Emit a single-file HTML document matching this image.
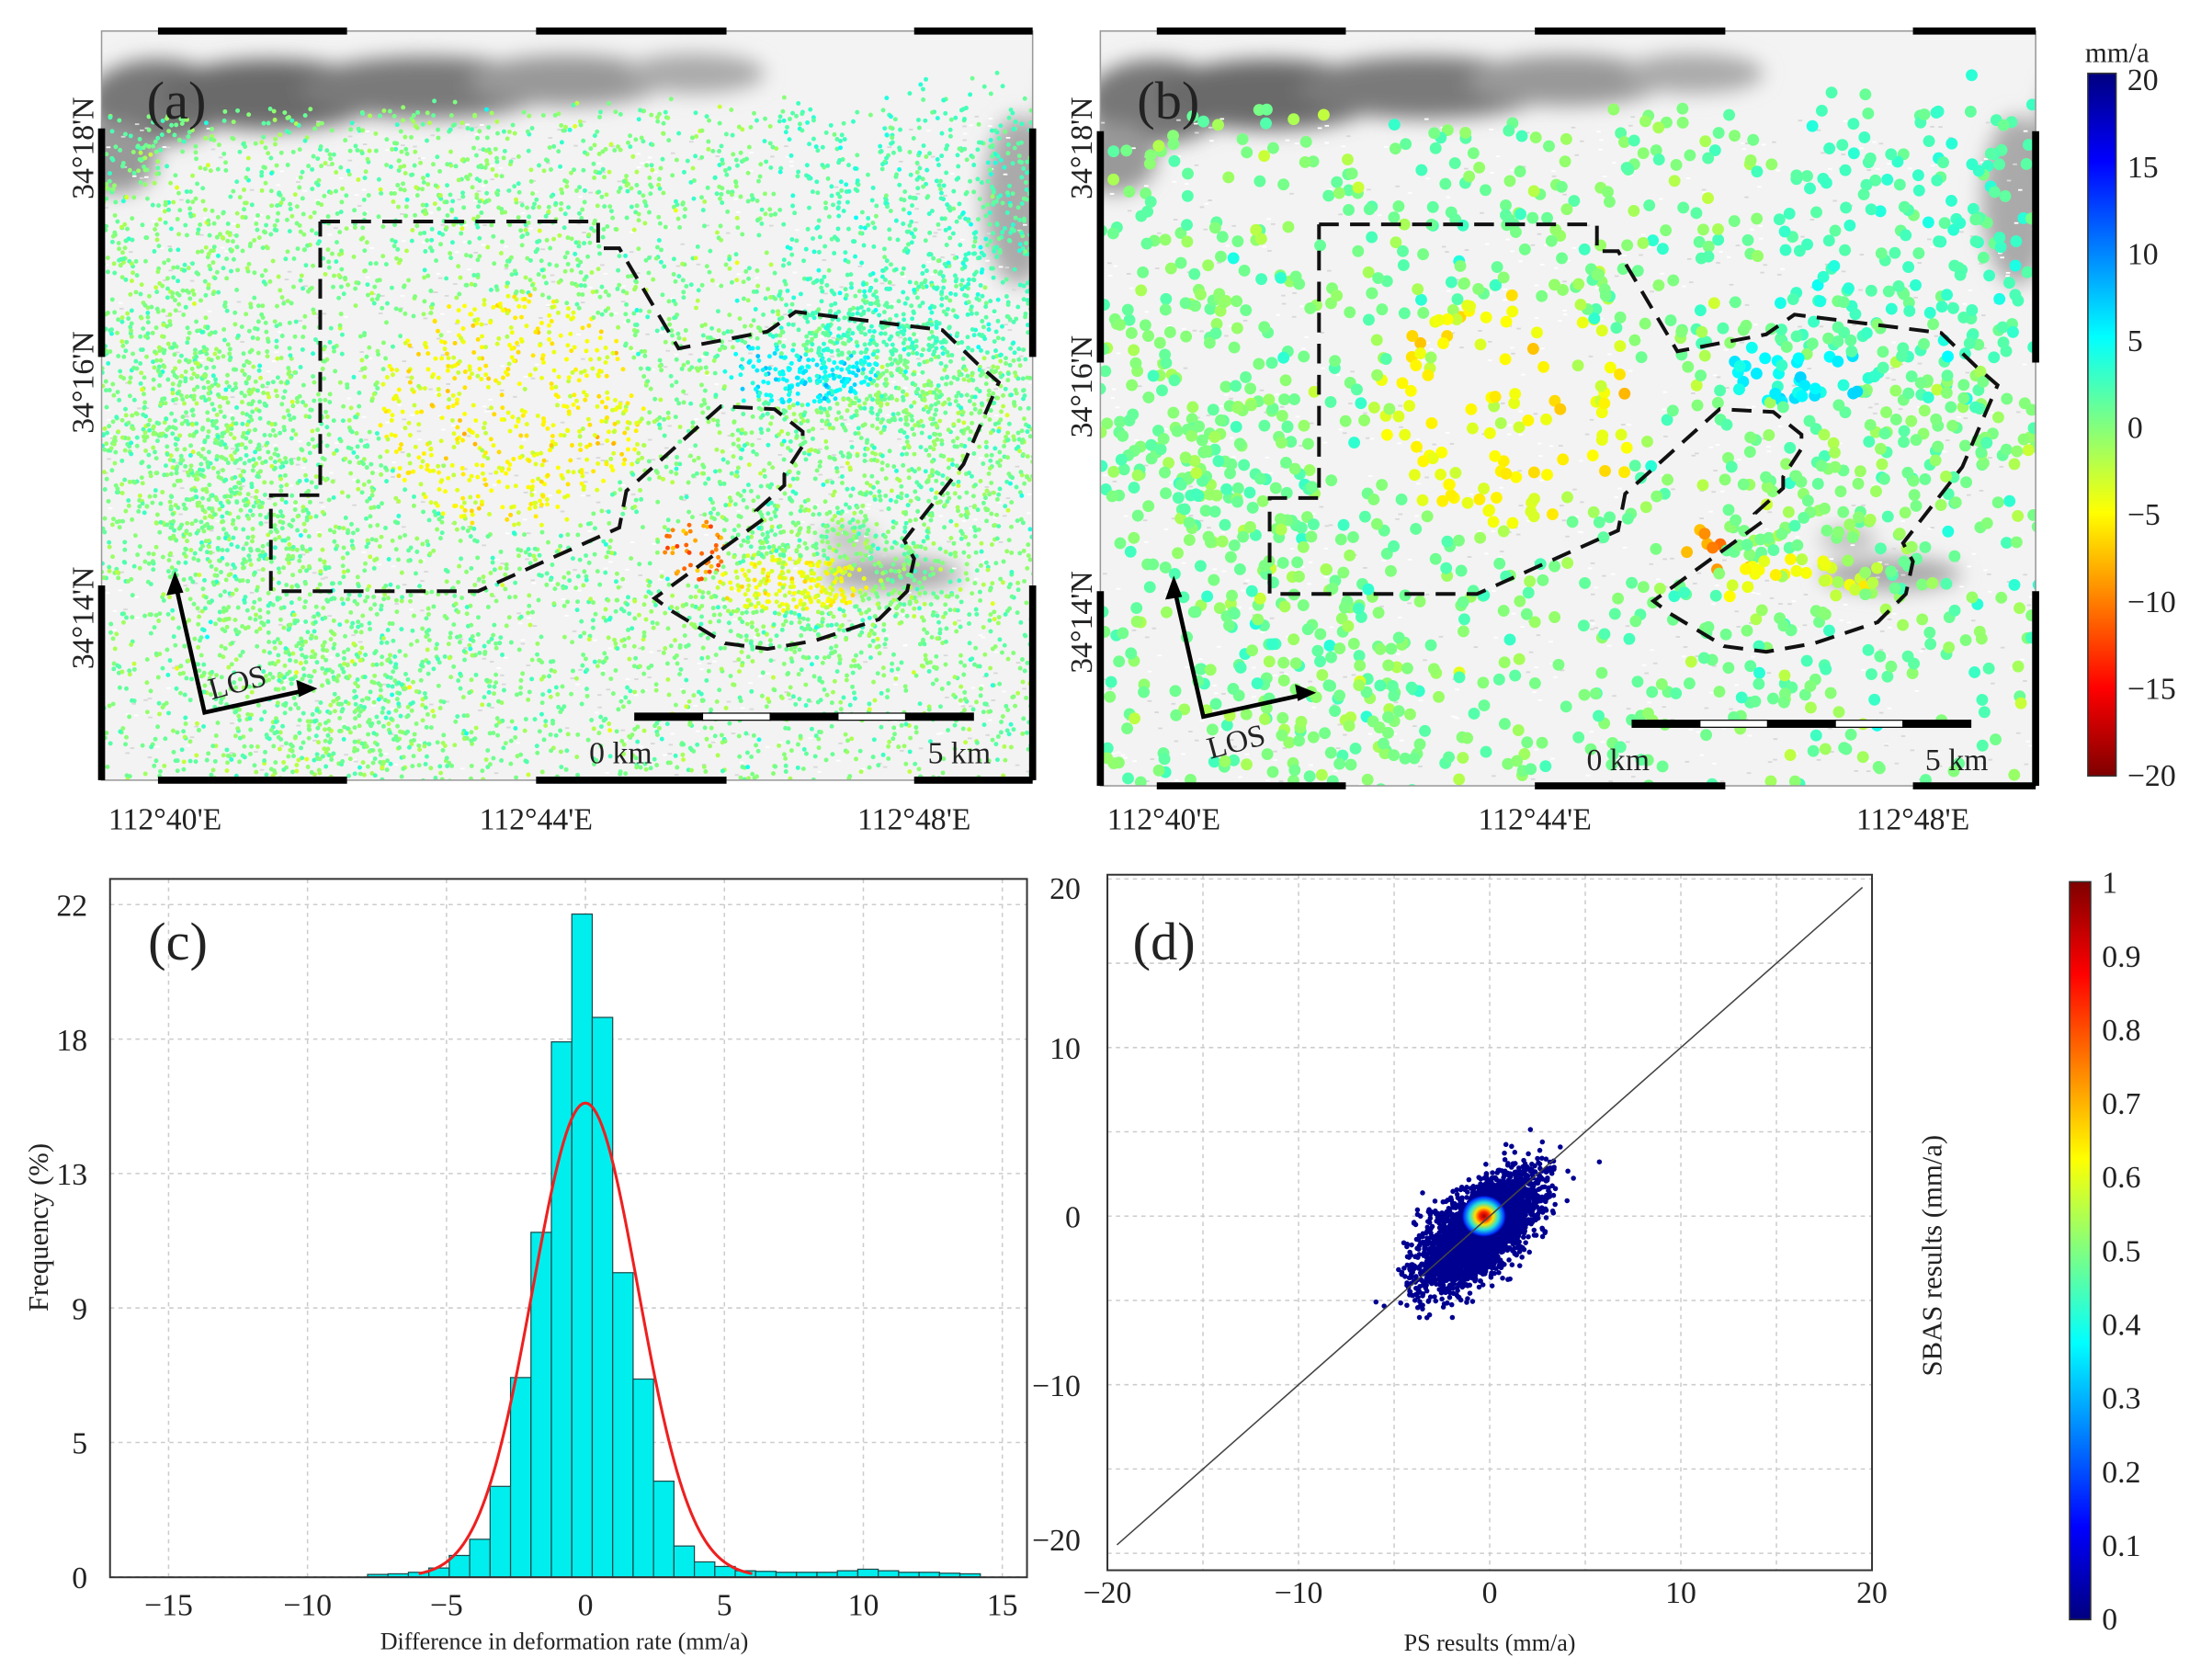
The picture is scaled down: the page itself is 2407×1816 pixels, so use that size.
<!DOCTYPE html>
<html><head><meta charset="utf-8"><style>
html,body{margin:0;padding:0;background:#fff;}
svg{display:block;}
text{font-family:"Liberation Serif",serif;fill:#222;}
</style></head><body>
<svg id="s" width="2407" height="1816" viewBox="0 0 1568 1183" preserveAspectRatio="none" xmlns="http://www.w3.org/2000/svg">
<defs>
<filter id="bl" x="-50%" y="-50%" width="200%" height="200%"><feGaussianBlur stdDeviation="7"/></filter>
<clipPath id="ca"><rect x="72" y="22" width="660" height="531"/></clipPath>
<clipPath id="cb"><rect x="780" y="22" width="663" height="535"/></clipPath>
<clipPath id="cd"><rect x="785" y="620" width="542" height="493"/></clipPath>
<linearGradient id="cb1" x1="0" y1="0" x2="0" y2="1">
<stop offset="0" stop-color="#00007f"/><stop offset="0.125" stop-color="#0000ff"/><stop offset="0.375" stop-color="#00ffff"/><stop offset="0.5" stop-color="#80ff80"/><stop offset="0.625" stop-color="#ffff00"/><stop offset="0.875" stop-color="#ff0000"/><stop offset="1" stop-color="#7f0000"/></linearGradient>
<linearGradient id="cb2" x1="0" y1="1" x2="0" y2="0">
<stop offset="0" stop-color="#00007f"/><stop offset="0.125" stop-color="#0000ff"/><stop offset="0.375" stop-color="#00ffff"/><stop offset="0.5" stop-color="#80ff80"/><stop offset="0.625" stop-color="#ffff00"/><stop offset="0.875" stop-color="#ff0000"/><stop offset="1" stop-color="#7f0000"/></linearGradient>
<radialGradient id="hot"><stop offset="0" stop-color="#a00000"/><stop offset="0.2" stop-color="#ff2000"/><stop offset="0.4" stop-color="#ffe000"/><stop offset="0.65" stop-color="#20e0e0"/><stop offset="0.9" stop-color="#0030ff"/><stop offset="1" stop-color="#0000a0" stop-opacity="0"/></radialGradient>
</defs>
<g id="ma" clip-path="url(#ca)"></g>
<g id="mb" clip-path="url(#cb)"></g>
<g id="frames"></g>
<text x="104" y="84" font-size="38">(a)</text>
<text x="806" y="84" font-size="38">(b)</text>
<g font-size="22">
<text transform="translate(66,105) rotate(-90)" text-anchor="middle">34°18'N</text>
<text transform="translate(66,271) rotate(-90)" text-anchor="middle">34°16'N</text>
<text transform="translate(66,438) rotate(-90)" text-anchor="middle">34°14'N</text>
<text transform="translate(774,105) rotate(-90)" text-anchor="middle">34°18'N</text>
<text transform="translate(774,274) rotate(-90)" text-anchor="middle">34°16'N</text>
<text transform="translate(774,441) rotate(-90)" text-anchor="middle">34°14'N</text>
<text x="117" y="588" text-anchor="middle">112°40'E</text>
<text x="380" y="588" text-anchor="middle">112°44'E</text>
<text x="648" y="588" text-anchor="middle">112°48'E</text>
<text x="825" y="588" text-anchor="middle">112°40'E</text>
<text x="1088" y="588" text-anchor="middle">112°44'E</text>
<text x="1356" y="588" text-anchor="middle">112°48'E</text>
<text x="440" y="541" text-anchor="middle">0 km</text>
<text x="680" y="541" text-anchor="middle">5 km</text>
<text x="1147" y="546" text-anchor="middle">0 km</text>
<text x="1387" y="546" text-anchor="middle">5 km</text>
<text transform="translate(150,496) rotate(-15)">LOS</text>
<text transform="translate(858,538) rotate(-15)">LOS</text>
</g>
<rect x="1480" y="52" width="20" height="498" fill="url(#cb1)" stroke="#333" stroke-width="1"/>
<text x="1478" y="44" font-size="20">mm/a</text>
<g id="cbl1" font-size="22"></g>
<rect x="1467" y="625" width="15" height="523" fill="url(#cb2)" stroke="#333" stroke-width="1"/>
<g id="cbl2" font-size="22"></g>
<g id="pc"></g>
<text x="105" y="680" font-size="38">(c)</text>
<text transform="translate(34,870) rotate(-90)" text-anchor="middle" font-size="20">Frequency (%)</text>
<text x="400" y="1169" text-anchor="middle" font-size="17">Difference in deformation rate (mm/a)</text>
<g id="pd"></g>
<text x="803" y="680" font-size="38">(d)</text>
<text x="1056" y="1170" text-anchor="middle" font-size="17">PS results (mm/a)</text>
<text transform="translate(1376,890) rotate(-90)" text-anchor="middle" font-size="20">SBAS results (mm/a)</text>
</svg>
<script>
var NS="http://www.w3.org/2000/svg";
function el(p,t,a){var e=document.createElementNS(NS,t);for(var k in a)e.setAttribute(k,a[k]);p.appendChild(e);return e;}
var seed=12345;function rnd(){seed=(seed*16807)%2147483647;return seed/2147483647;}
function gauss(){return Math.sqrt(-2*Math.log(rnd()+1e-9))*Math.cos(6.283*rnd());}
function cl(x){return Math.max(0,Math.min(1,x));}
function jet(t){var r=cl(1.5-Math.abs(4*t-3)),g=cl(1.5-Math.abs(4*t-2)),b=cl(1.5-Math.abs(4*t-1));return "rgb("+Math.round(r*255)+","+Math.round(g*255)+","+Math.round(b*255)+")";}
function vcol(v){return jet((20-v)/40);}
var fr=document.getElementById("frames");
function map(g,ox,oy,x0,y0,x1,y1,dense){
  el(g,"rect",{x:x0,y:y0,width:x1-x0,height:y1-y0,fill:"#f3f3f3"});
  var sh=[[40,50,50,30,"#777"],[120,45,80,25,"#6a6a6a"],[230,40,90,22,"#7a7a7a"],[330,35,70,18,"#999"],[420,30,50,14,"#aaa"],[10,90,30,25,"#999"],[650,120,25,60,"#aaa"],[690,80,25,60,"#999"],[560,385,50,12,"#aaa"],[530,360,20,8,"#bbb"]];
  var fg=el(g,"g",{filter:"url(#bl)"});
  sh.forEach(function(s){el(fg,"ellipse",{cx:x0+s[0],cy:y0+s[1],rx:s[2],ry:s[3],fill:s[4]});});
  // texture
  for(var i=0;i<900;i++){el(g,"rect",{x:x0+rnd()*(x1-x0),y:y0+60+rnd()*(y1-y0-60),width:3,height:1.2,fill:rnd()<0.5?"#d8d8d8":"#fff"});}
  var n=dense?9000:1700,r=dense?1.6:4.2;
  var cx=[[240,110,200,45],[600,160,60,70],[300,270,90,80],[500,380,50,30],[100,330,40,60],[400,470,280,50],[40,250,40,70],[520,240,50,30],[160,470,50,50],[620,300,60,60]];
  for(var i=0;i<n;i++){
    var x,y;
    if(rnd()<0.6){var c=cx[Math.floor(rnd()*cx.length)];x=c[0]+gauss()*c[2];y=c[1]+gauss()*c[3];}
    else{x=rnd()*(x1-x0);y=55+rnd()*(y1-y0-55);}
    if(y<60-x*0.05) continue;
    var v=0.3+gauss()*1.3;
    var d1=Math.hypot((x-290)/80,(y-270)/70); if(d1<1.2) v=-4.5+gauss()*1.3;
    var d2=Math.hypot((x-420)/22,(y-368)/22); if(d2<1) v=-10+gauss()*1.5;
    var d3=Math.hypot((x-495)/55,(y-240)/25); if(d3<1) v=5+gauss()*1.2;
    var d4=Math.hypot((x-490)/55,(y-392)/20); if(d4<1) v=-4+gauss()*1.3;
    if(y<230&&x>480) v=2+gauss()*1.0;
    el(g,"circle",{cx:x0+x,cy:y0+y,r:r,fill:vcol(v)});
  }
  var P1=[[227,157],[424,157],[424,176],[439,176],[481,247],[544,235],[564,221],[668,234],[693,258],[708,271],[683,329],[641,383],[648,396],[643,419],[623,439],[578,454],[544,460],[514,456],[476,433],[464,424],[541,368],[536,362],[556,344],[556,336],[569,316],[569,306],[549,290],[511,288],[444,348],[439,374],[339,419],[192,419],[192,351],[227,351],[227,157]];
  el(g,"polyline",{points:P1.map(function(p){return (p[0]+ox)+","+(p[1]+oy);}).join(" "),fill:"none",stroke:"#111","stroke-width":2.6,"stroke-dasharray":"14,8"});
}
map(document.getElementById("ma"),0,0,72,22,732,553,true);
map(document.getElementById("mb"),708,2,780,22,1443,557,false);
function frame(x0,y0,x1,y1,xs,ys){
  el(fr,"rect",{x:x0,y:y0,width:x1-x0,height:y1-y0,fill:"none",stroke:"#999","stroke-width":1});
  xs.forEach(function(s){el(fr,"line",{x1:s[0],x2:s[1],y1:y0,y2:y0,stroke:"#000","stroke-width":5});el(fr,"line",{x1:s[0],x2:s[1],y1:y1,y2:y1,stroke:"#000","stroke-width":5});});
  ys.forEach(function(s){el(fr,"line",{x1:x0,x2:x0,y1:s[0],y2:s[1],stroke:"#000","stroke-width":5});el(fr,"line",{x1:x1,x2:x1,y1:s[0],y2:s[1],stroke:"#000","stroke-width":5});});
}
frame(72,22,732,553,[[112,246],[380,515],[648,732]],[[91,253],[415,553]]);
frame(780,22,1443,557,[[820,954],[1088,1223],[1356,1443]],[[93,257],[419,557]]);
function los(ox,oy){
  el(fr,"polyline",{points:(124+ox)+","+(412+oy)+" "+(145+ox)+","+(505+oy)+" "+(218+ox)+","+(489+oy),fill:"none",stroke:"#000","stroke-width":3});
  el(fr,"polygon",{points:(124+ox)+","+(405+oy)+" "+(118+ox)+","+(422+oy)+" "+(130+ox)+","+(420+oy),fill:"#000"});
  el(fr,"polygon",{points:(225+ox)+","+(488+oy)+" "+(210+ox)+","+(482+oy)+" "+(212+ox)+","+(494+oy),fill:"#000"});
}
los(0,0);los(708,3);
function sbar(x0,y){for(var i=0;i<5;i++){el(fr,"rect",{x:x0+i*48,y:y-2.5,width:48,height:5,fill:i%2?"#fff":"#000",stroke:"#000","stroke-width":0.8});}}
sbar(450,508);sbar(1157,513);
var c1=document.getElementById("cbl1");
for(var v=20;v>=-20;v-=5){var y=57+(20-v)/40*493;var t=el(c1,"text",{x:1508,y:y+7});t.textContent=(v<0?"−":"")+Math.abs(v);}
var c2=document.getElementById("cbl2");
for(var k=10;k>=0;k--){var y=625+(10-k)/10*522;var t=el(c2,"text",{x:1490,y:y+8});t.textContent=k==10?"1":(k==0?"0":"0."+k);}
var pc=document.getElementById("pc");
var X=function(v){return 415+v*19.7;},Y=function(v){return 1117.7-v*21.67;};
[-15,-10,-5,0,5,10,15].forEach(function(v){el(pc,"line",{x1:X(v),x2:X(v),y1:623,y2:1118,stroke:"#ccc","stroke-dasharray":"3,3"});var t=el(pc,"text",{x:X(v),y:1145,"text-anchor":"middle","font-size":22});t.textContent=(v<0?"−":"")+Math.abs(v);});
["0","5","9","13","18","22"].forEach(function(s,k){var y=1117.7-k*95.3;el(pc,"line",{x1:78,x2:728,y1:y,y2:y,stroke:"#ccc","stroke-dasharray":"3,3"});var t=el(pc,"text",{x:62,y:y+8,"text-anchor":"end","font-size":22});t.textContent=s;});
var bars={};
bars[-10]=0.08;bars[-9]=0.1;bars[-8]=0.15;bars[-7]=0.29;bars[-6]=0.7;bars[-5]=1.23;bars[-4]=2.96;bars[-3]=6.52;bars[-2]=11.27;bars[-1]=17.5;bars[0]=21.68;
var rr=[18.3,9.95,6.47,3.13,1.01,0.49,0.34,0.2,0.18,0.15,0.15,0.15,0.2,0.25,0.2,0.15,0.15,0.12,0.1];
for(var i=1;i<=19;i++)bars[i]=rr[i-1];
for(var i=-10;i<=19;i++){var l=-0.49+i*0.735;el(pc,"rect",{x:X(l),y:Y(bars[i]),width:0.735*19.7,height:Y(0)-Y(bars[i]),fill:"#00eeee",stroke:"#1a4a4a","stroke-width":0.8});}
var pts=[];for(var v=-6;v<=6.01;v+=0.1){pts.push(X(v)+","+Y(15.5*Math.exp(-v*v/(2*1.9*1.9))));}
el(pc,"polyline",{points:pts.join(" "),fill:"none",stroke:"#ee2020","stroke-width":2});
el(pc,"rect",{x:78,y:623,width:650,height:495,fill:"none",stroke:"#333","stroke-width":1.3});
var pd=document.getElementById("pd");
var DX=function(v){return 1056+v*13.55;},DY=function(v){return 862-v*11.95;};
[-20,-15,-10,-5,0,5,10,15,20].forEach(function(v){el(pd,"line",{x1:DX(v),x2:DX(v),y1:620,y2:1113,stroke:"#ccc","stroke-dasharray":"3,3"});el(pd,"line",{x1:785,x2:1327,y1:DY(v),y2:DY(v),stroke:"#ccc","stroke-dasharray":"3,3"});
 if(v%10==0){var t=el(pd,"text",{x:DX(v),y:1136,"text-anchor":"middle","font-size":22});t.textContent=(v<0?"−":"")+Math.abs(v);
 var t2=el(pd,"text",{x:766,y:DY(v)+(v==-20?-2:(v==20?14:8)),"text-anchor":"end","font-size":22});t2.textContent=(v<0?"−":"")+Math.abs(v);}});
var gd=el(pd,"g",{"clip-path":"url(#cd)"});
for(var i=0;i<3500;i++){var a=gauss(),b=gauss();var px=-0.5+a*1.5+b*0.3,py=-0.8+a*0.8+b*1.4;
 el(gd,"circle",{cx:DX(px),cy:DY(py),r:1.8,fill:"#000090"});}
el(gd,"ellipse",{cx:DX(-0.3),cy:DY(0),rx:16,ry:15,fill:"url(#hot)"});
el(gd,"line",{x1:DX(-19.5),y1:DY(-19.5),x2:DX(19.5),y2:DY(19.5),stroke:"#444","stroke-width":1});
el(pd,"rect",{x:785,y:620,width:542,height:493,fill:"none",stroke:"#333","stroke-width":1.3});
</script>
</body></html>
